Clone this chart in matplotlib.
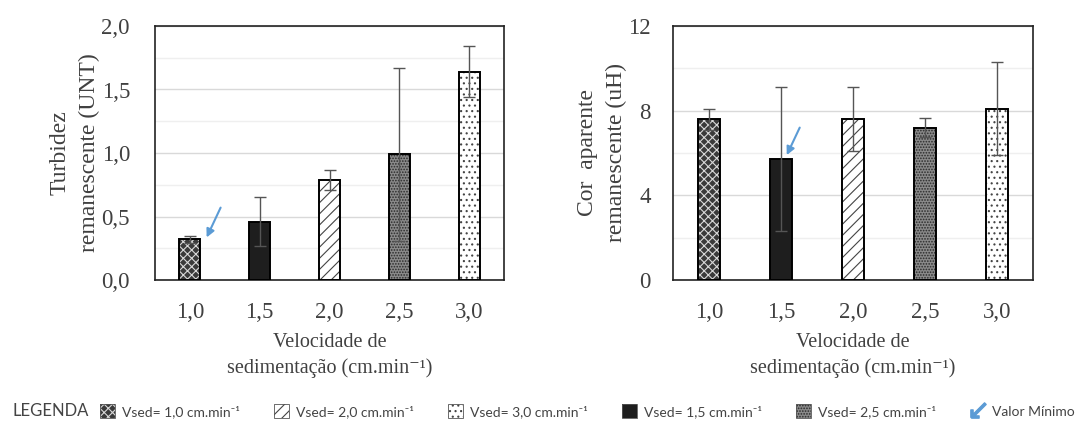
import matplotlib
matplotlib.use("Agg")
import matplotlib.pyplot as plt
from matplotlib.patches import Patch
from matplotlib.lines import Line2D
from matplotlib.legend_handler import HandlerTuple
from matplotlib.ticker import MultipleLocator, FuncFormatter

# ---- data ----
categories = ["1,0", "1,5", "2,0", "2,5", "3,0"]
turbidez = [0.32, 0.46, 0.79, 0.99, 1.64]
turbidez_err = [0.03, 0.19, 0.08, 0.68, 0.20]
cor = [7.6, 5.7, 7.6, 7.2, 8.1]
cor_err = [0.5, 3.4, 1.5, 0.45, 2.2]
min_idx_turb = 0
min_idx_cor = 1
legend_labels = ["Vsed= 1,0 cm.min⁻¹", "Vsed= 2,0 cm.min⁻¹",
                 "Vsed= 3,0 cm.min⁻¹", "Vsed= 1,5 cm.min⁻¹",
                 "Vsed= 2,5 cm.min⁻¹", "Valor Mínimo"]

# styles per category (1,0 1,5 2,0 2,5 3,0)
faces = ["#3a3a3a", "#1e1e1e", "white", "#8a8a8a", "white"]
hatches = ["xxxx", None, "///", "......", "..."]
hatch_cols = ["#d8d8d8", "#1e1e1e", "#444444", "#2a2a2a", "#444444"]

plt.rcParams['hatch.linewidth'] = 0.8
SERIF = ["Liberation Serif", "DejaVu Serif"]
TXT = "#404040"

fig = plt.figure(figsize=(10.78, 4.30), dpi=100)
axL = fig.add_axes([155/1078, 1-280/430, 349/1078, 254/430])
axR = fig.add_axes([673/1078, 1-280/430, 360/1078, 254/430])

blue = "#5b9bd5"

def draw(ax, vals, errs, ymax, major, minor, fmt, ylabel, min_idx, head, tail, ypad):
    x = list(range(len(categories)))
    for i in x:
        ax.bar(i, vals[i], width=0.3, color=faces[i], hatch=hatches[i],
               edgecolor=hatch_cols[i], linewidth=0, zorder=3)
        ax.bar(i, vals[i], width=0.3, fill=False, edgecolor="black",
               linewidth=1.4, zorder=3.5)
    ax.errorbar(x, vals, yerr=errs, fmt="none", ecolor="#555555",
                elinewidth=1.0, capsize=4, capthick=1.0, zorder=4)
    ax.set_xlim(-0.5, len(categories)-0.5)
    ax.set_ylim(0, ymax)
    ax.yaxis.set_major_locator(MultipleLocator(major))
    ax.yaxis.set_minor_locator(MultipleLocator(minor))
    ax.yaxis.set_major_formatter(FuncFormatter(fmt))
    ax.set_xticks(x)
    ax.set_xticklabels(categories)
    ax.grid(axis="y", which="major", color="#d9d9d9", linewidth=1.0, zorder=0)
    ax.grid(axis="y", which="minor", color="#efefef", linewidth=1.0, zorder=0)
    ax.tick_params(which="both", length=0, labelsize=16.5, labelcolor=TXT,
                   labelfontfamily="Liberation Serif")
    ax.tick_params(axis="y", pad=ypad)
    ax.tick_params(axis="x", pad=16)
    for s in ax.spines.values():
        s.set_linewidth(1.2)
        s.set_color("#222222")
    ax.set_ylabel(ylabel, fontsize=17, family=SERIF, color=TXT,
                  labelpad=1, linespacing=1.5)
    ax.set_xlabel("Velocidade de\nsedimentação (cm.min⁻¹)",
                  fontsize=14.5, family=SERIF, color=TXT, labelpad=7,
                  linespacing=1.45)
    v = vals[min_idx]
    ax.annotate("", xy=(min_idx + head[0], v + head[1]),
                xytext=(min_idx + tail[0], v + tail[1]),
                arrowprops=dict(arrowstyle="-|>", color=blue, lw=1.5,
                                mutation_scale=12, shrinkA=0, shrinkB=0),
                zorder=6)

draw(axL, turbidez, turbidez_err, 2.0, 0.5, 0.25,
     lambda v, p: f"{v:.1f}".replace(".", ","),
     "Turbidez\nremanescente (UNT)", min_idx_turb, (0.24, 0.015), (0.44, 0.25), 18)
draw(axR, cor, cor_err, 12, 4, 2,
     lambda v, p: f"{v:.0f}",
     "Cor  aparente\nremanescente (uH)", min_idx_cor, (0.08, 0.2), (0.26, 1.5), 16)

# ---- legend ----
order = [0, 2, 4, 1, 3]
handles = [(Patch(facecolor=faces[i], hatch=hatches[i], edgecolor=hatch_cols[i],
                  linewidth=0),
            Patch(fill=False, edgecolor="#555555", linewidth=0.6)) for i in order]
handles.append(Line2D([], [], color=blue, marker=r"$\swarrow$", markersize=11,
                      linestyle="none"))
fig.text(12/1078, 1-411/430, "LEGENDA", fontsize=12, family="Lato",
         color="#444444", va="center", ha="left")
leg = fig.legend(handles, legend_labels, loc="center left",
                 bbox_to_anchor=(100/1078, 1-411/430 - 0.03, 975/1078, 0.06),
                 mode="expand", ncol=6, frameon=False,
                 handlelength=1.1, handleheight=1.1, handletextpad=0.5,
                 borderaxespad=0, borderpad=0,
                 handler_map={tuple: HandlerTuple(ndivide=1, pad=0)},
                 prop={"family": ["Lato", "DejaVu Sans"], "size": 10})
for t in leg.get_texts():
    t.set_color("#444444")

fig.savefig("out.png", dpi=100)
